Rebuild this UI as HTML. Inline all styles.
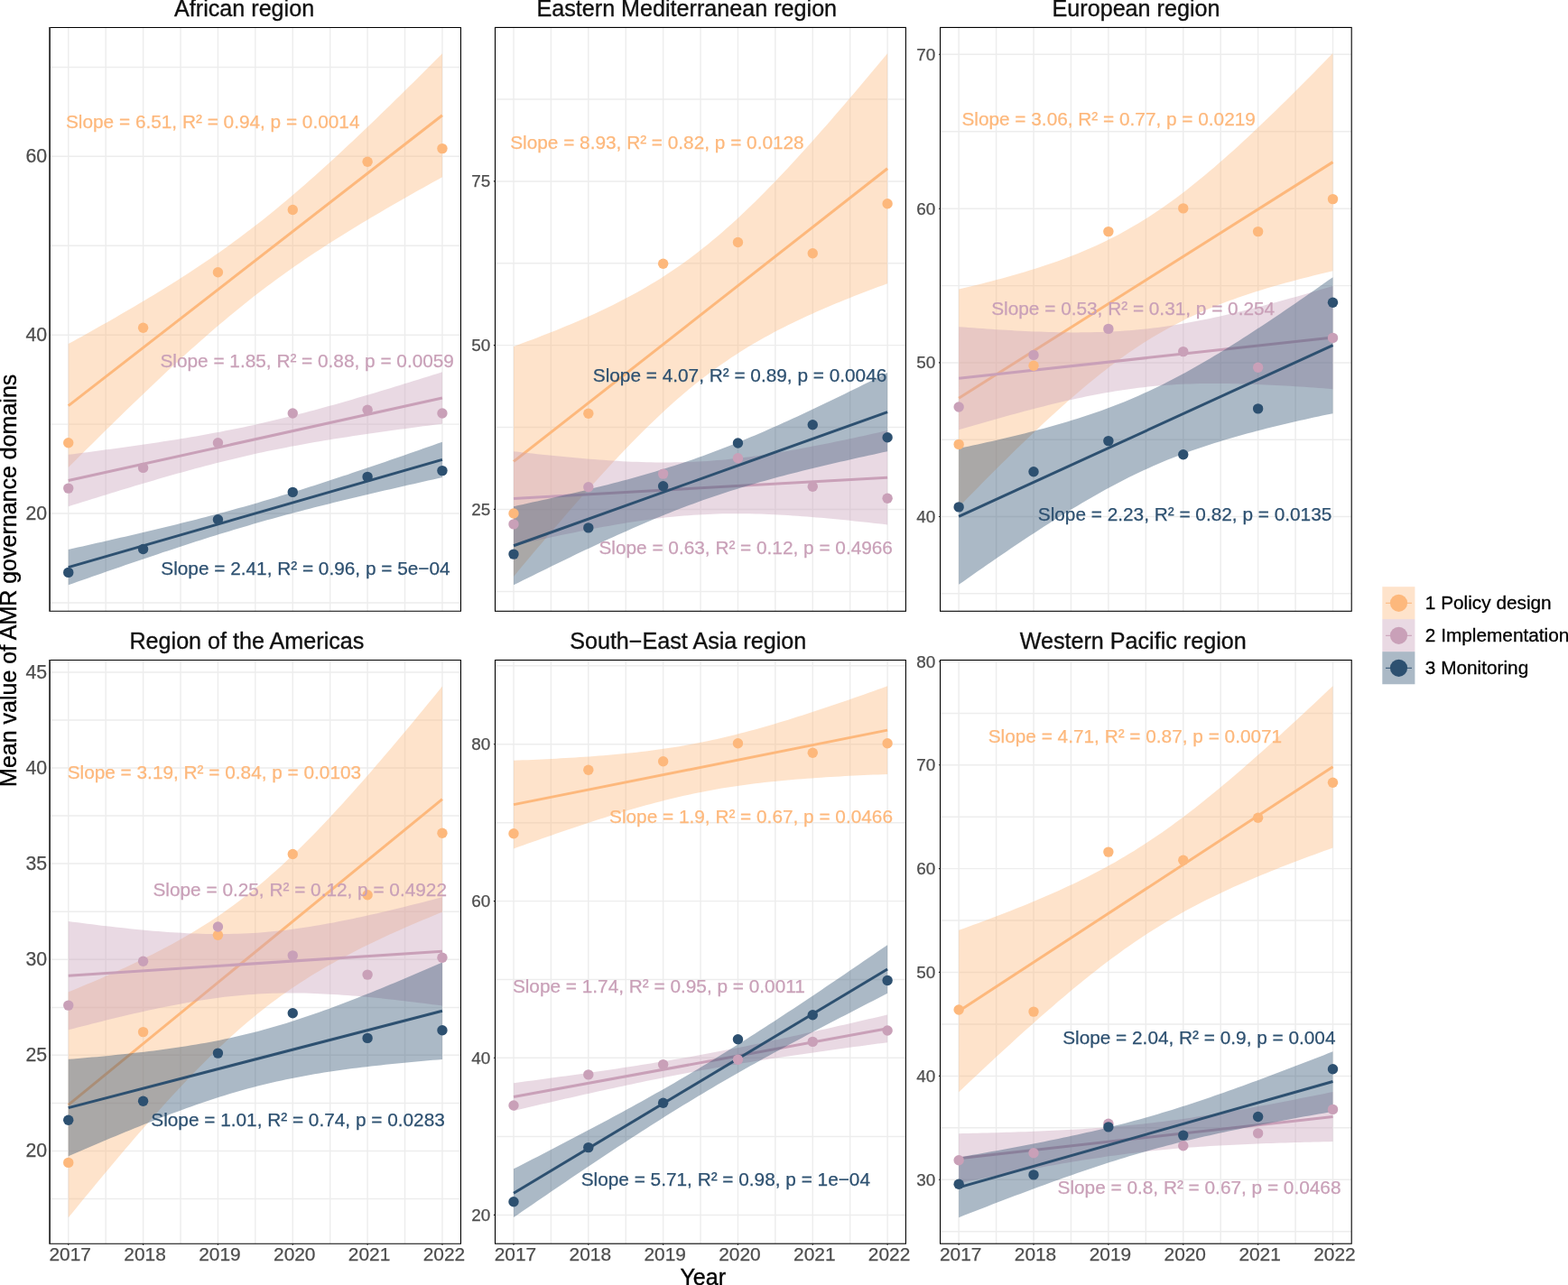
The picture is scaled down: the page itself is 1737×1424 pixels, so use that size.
<!DOCTYPE html>
<html lang="en"><head><meta charset="utf-8"><title>Mean value of AMR governance domains by WHO region</title>
<style>html,body{margin:0;padding:0;background:#fff}body{width:1737px;height:1424px;overflow:hidden}svg{display:block}text{font-family:"Liberation Sans",Arial,Helvetica,sans-serif}</style>
</head><body>
<svg width="1737" height="1424" viewBox="0 0 1737 1424">
<rect width="1737" height="1424" fill="#fff"/>
<g>
<path d="M55.1 74.4H510.45M55.1 173.3H510.45M55.1 272.2H510.45M55.1 371.2H510.45M55.1 470.1H510.45M55.1 569H510.45M55.1 668H510.45M75.75 30.45V677.3M117.17 30.45V677.3M158.59 30.45V677.3M200.01 30.45V677.3M241.43 30.45V677.3M282.85 30.45V677.3M324.27 30.45V677.3M365.69 30.45V677.3M407.11 30.45V677.3M448.53 30.45V677.3M489.95 30.45V677.3" stroke="#EDEDED" stroke-width="1.45" fill="none"/>
<polygon points="75.75,381.11 80.99,378.21 86.24,375.31 91.48,372.39 96.72,369.46 101.97,366.52 107.21,363.57 112.45,360.61 117.69,357.63 122.94,354.63 128.18,351.63 133.42,348.6 138.67,345.56 143.91,342.5 149.15,339.42 154.4,336.32 159.64,333.19 164.88,330.05 170.12,326.88 175.37,323.69 180.61,320.47 185.85,317.22 191.1,313.94 196.34,310.63 201.58,307.28 206.83,303.91 212.07,300.49 217.31,297.04 222.56,293.55 227.8,290.02 233.04,286.44 238.28,282.82 243.53,279.15 248.77,275.44 254.01,271.68 259.26,267.87 264.5,264 269.74,260.09 274.99,256.12 280.23,252.1 285.47,248.03 290.71,243.9 295.96,239.72 301.2,235.49 306.44,231.21 311.69,226.87 316.93,222.49 322.17,218.06 327.42,213.58 332.66,209.05 337.9,204.48 343.14,199.87 348.39,195.21 353.63,190.52 358.87,185.79 364.12,181.02 369.36,176.21 374.6,171.38 379.85,166.51 385.09,161.61 390.33,156.69 395.58,151.74 400.82,146.76 406.06,141.76 411.3,136.73 416.55,131.69 421.79,126.62 427.03,121.53 432.28,116.43 437.52,111.31 442.76,106.17 448.01,101.02 453.25,95.85 458.49,90.67 463.73,85.48 468.98,80.27 474.22,75.05 479.46,69.82 484.71,64.58 489.95,59.33 489.95,196.27 484.71,199.17 479.46,202.07 474.22,204.99 468.98,207.92 463.73,210.86 458.49,213.81 453.25,216.78 448.01,219.76 442.76,222.75 437.52,225.76 432.28,228.78 427.03,231.83 421.79,234.89 416.55,237.97 411.3,241.07 406.06,244.19 400.82,247.33 395.58,250.5 390.33,253.7 385.09,256.92 379.85,260.17 374.6,263.45 369.36,266.76 364.12,270.1 358.87,273.48 353.63,276.89 348.39,280.34 343.14,283.83 337.9,287.37 332.66,290.94 327.42,294.56 322.17,298.23 316.93,301.94 311.69,305.71 306.44,309.52 301.2,313.38 295.96,317.3 290.71,321.26 285.47,325.28 280.23,329.36 274.99,333.48 269.74,337.66 264.5,341.89 259.26,346.18 254.01,350.51 248.77,354.89 243.53,359.33 238.28,363.81 233.04,368.33 227.8,372.9 222.56,377.52 217.31,382.17 212.07,386.87 206.83,391.6 201.58,396.37 196.34,401.17 191.1,406.01 185.85,410.87 180.61,415.77 175.37,420.7 170.12,425.65 164.88,430.63 159.64,435.63 154.4,440.65 149.15,445.7 143.91,450.76 138.67,455.85 133.42,460.95 128.18,466.07 122.94,471.21 117.69,476.36 112.45,481.53 107.21,486.71 101.97,491.91 96.72,497.11 91.48,502.33 86.24,507.56 80.99,512.8 75.75,518.05" fill="#FDB87C" fill-opacity="0.4"/>
<line x1="75.75" y1="449.58" x2="489.95" y2="127.8" stroke="#FDB87C" stroke-width="3.0"/>
<polygon points="75.75,503.81 80.99,503.15 86.24,502.48 91.48,501.81 96.72,501.13 101.97,500.44 107.21,499.75 112.45,499.06 117.69,498.36 122.94,497.65 128.18,496.94 133.42,496.22 138.67,495.49 143.91,494.76 149.15,494.02 154.4,493.27 159.64,492.51 164.88,491.74 170.12,490.96 175.37,490.17 180.61,489.37 185.85,488.55 191.1,487.73 196.34,486.89 201.58,486.03 206.83,485.17 212.07,484.28 217.31,483.39 222.56,482.47 227.8,481.54 233.04,480.59 238.28,479.62 243.53,478.63 248.77,477.62 254.01,476.59 259.26,475.54 264.5,474.47 269.74,473.38 274.99,472.27 280.23,471.13 285.47,469.97 290.71,468.79 295.96,467.59 301.2,466.36 306.44,465.11 311.69,463.85 316.93,462.56 322.17,461.25 327.42,459.92 332.66,458.57 337.9,457.2 343.14,455.82 348.39,454.41 353.63,452.99 358.87,451.56 364.12,450.11 369.36,448.64 374.6,447.16 379.85,445.67 385.09,444.17 390.33,442.65 395.58,441.12 400.82,439.58 406.06,438.04 411.3,436.48 416.55,434.91 421.79,433.34 427.03,431.75 432.28,430.16 437.52,428.56 442.76,426.96 448.01,425.35 453.25,423.73 458.49,422.1 463.73,420.48 468.98,418.84 474.22,417.2 479.46,415.56 484.71,413.91 489.95,412.26 489.95,469.69 484.71,470.35 479.46,471.02 474.22,471.69 468.98,472.37 463.73,473.06 458.49,473.75 453.25,474.44 448.01,475.14 442.76,475.85 437.52,476.56 432.28,477.28 427.03,478.01 421.79,478.74 416.55,479.48 411.3,480.23 406.06,480.99 400.82,481.76 395.58,482.54 390.33,483.33 385.09,484.13 379.85,484.95 374.6,485.77 369.36,486.61 364.12,487.47 358.87,488.33 353.63,489.22 348.39,490.11 343.14,491.03 337.9,491.96 332.66,492.91 327.42,493.88 322.17,494.87 316.93,495.88 311.69,496.91 306.44,497.96 301.2,499.03 295.96,500.12 290.71,501.23 285.47,502.37 280.23,503.53 274.99,504.71 269.74,505.91 264.5,507.14 259.26,508.39 254.01,509.65 248.77,510.94 243.53,512.25 238.28,513.58 233.04,514.93 227.8,516.3 222.56,517.68 217.31,519.09 212.07,520.51 206.83,521.94 201.58,523.39 196.34,524.86 191.1,526.34 185.85,527.83 180.61,529.33 175.37,530.85 170.12,532.38 164.88,533.92 159.64,535.46 154.4,537.02 149.15,538.59 143.91,540.16 138.67,541.75 133.42,543.34 128.18,544.94 122.94,546.54 117.69,548.15 112.45,549.77 107.21,551.4 101.97,553.02 96.72,554.66 91.48,556.3 86.24,557.94 80.99,559.59 75.75,561.24" fill="#C9A0B8" fill-opacity="0.4"/>
<line x1="75.75" y1="532.53" x2="489.95" y2="440.97" stroke="#C9A0B8" stroke-width="3.0"/>
<polygon points="75.75,608.94 80.99,607.77 86.24,606.59 91.48,605.42 96.72,604.24 101.97,603.05 107.21,601.86 112.45,600.67 117.69,599.48 122.94,598.28 128.18,597.08 133.42,595.87 138.67,594.66 143.91,593.44 149.15,592.21 154.4,590.98 159.64,589.75 164.88,588.51 170.12,587.26 175.37,586 180.61,584.74 185.85,583.46 191.1,582.18 196.34,580.89 201.58,579.59 206.83,578.28 212.07,576.96 217.31,575.63 222.56,574.29 227.8,572.94 233.04,571.57 238.28,570.19 243.53,568.8 248.77,567.39 254.01,565.97 259.26,564.54 264.5,563.09 269.74,561.63 274.99,560.15 280.23,558.65 285.47,557.14 290.71,555.62 295.96,554.08 301.2,552.53 306.44,550.96 311.69,549.37 316.93,547.77 322.17,546.16 327.42,544.53 332.66,542.9 337.9,541.24 343.14,539.58 348.39,537.9 353.63,536.21 358.87,534.52 364.12,532.81 369.36,531.09 374.6,529.36 379.85,527.62 385.09,525.88 390.33,524.12 395.58,522.36 400.82,520.59 406.06,518.81 411.3,517.03 416.55,515.24 421.79,513.45 427.03,511.65 432.28,509.84 437.52,508.03 442.76,506.22 448.01,504.4 453.25,502.57 458.49,500.75 463.73,498.92 468.98,497.08 474.22,495.24 479.46,493.4 484.71,491.56 489.95,489.71 489.95,529.06 484.71,530.23 479.46,531.41 474.22,532.58 468.98,533.76 463.73,534.95 458.49,536.14 453.25,537.33 448.01,538.52 442.76,539.72 437.52,540.92 432.28,542.13 427.03,543.34 421.79,544.56 416.55,545.79 411.3,547.02 406.06,548.25 400.82,549.49 395.58,550.74 390.33,552 385.09,553.26 379.85,554.54 374.6,555.82 369.36,557.11 364.12,558.41 358.87,559.72 353.63,561.04 348.39,562.37 343.14,563.71 337.9,565.06 332.66,566.43 327.42,567.81 322.17,569.2 316.93,570.61 311.69,572.03 306.44,573.46 301.2,574.91 295.96,576.37 290.71,577.85 285.47,579.35 280.23,580.86 274.99,582.38 269.74,583.92 264.5,585.47 259.26,587.04 254.01,588.63 248.77,590.23 243.53,591.84 238.28,593.47 233.04,595.1 227.8,596.76 222.56,598.42 217.31,600.1 212.07,601.79 206.83,603.48 201.58,605.19 196.34,606.91 191.1,608.64 185.85,610.38 180.61,612.12 175.37,613.88 170.12,615.64 164.88,617.41 159.64,619.19 154.4,620.97 149.15,622.76 143.91,624.55 138.67,626.35 133.42,628.16 128.18,629.97 122.94,631.78 117.69,633.6 112.45,635.43 107.21,637.25 101.97,639.08 96.72,640.92 91.48,642.76 86.24,644.6 80.99,646.44 75.75,648.29" fill="#2D5070" fill-opacity="0.4"/>
<line x1="75.75" y1="628.61" x2="489.95" y2="509.39" stroke="#2D5070" stroke-width="3.0"/>
<circle cx="75.75" cy="490.8" r="5.7" fill="#FDB87C"/>
<circle cx="158.59" cy="363.25" r="5.7" fill="#FDB87C"/>
<circle cx="241.43" cy="301.8" r="5.7" fill="#FDB87C"/>
<circle cx="324.27" cy="232.5" r="5.7" fill="#FDB87C"/>
<circle cx="407.11" cy="179.2" r="5.7" fill="#FDB87C"/>
<circle cx="489.95" cy="164.6" r="5.7" fill="#FDB87C"/>
<circle cx="75.75" cy="541.1" r="5.7" fill="#C9A0B8"/>
<circle cx="158.59" cy="518.4" r="5.7" fill="#C9A0B8"/>
<circle cx="241.43" cy="490.8" r="5.7" fill="#C9A0B8"/>
<circle cx="324.27" cy="458" r="5.7" fill="#C9A0B8"/>
<circle cx="407.11" cy="454.2" r="5.7" fill="#C9A0B8"/>
<circle cx="489.95" cy="458" r="5.7" fill="#C9A0B8"/>
<circle cx="75.75" cy="634.4" r="5.7" fill="#2D5070"/>
<circle cx="158.59" cy="608.5" r="5.7" fill="#2D5070"/>
<circle cx="241.43" cy="575.7" r="5.7" fill="#2D5070"/>
<circle cx="324.27" cy="545.4" r="5.7" fill="#2D5070"/>
<circle cx="407.11" cy="528.4" r="5.7" fill="#2D5070"/>
<circle cx="489.95" cy="521.6" r="5.7" fill="#2D5070"/>
<text x="235.75" y="141.9" font-size="20.8" text-anchor="middle" fill="#FDB87C" stroke="#FDB87C" stroke-width="0.25">Slope = 6.51, R² = 0.94, p = 0.0014</text>
<text x="340.2" y="407.4" font-size="20.8" text-anchor="middle" fill="#C9A0B8" stroke="#C9A0B8" stroke-width="0.25">Slope = 1.85, R² = 0.88, p = 0.0059</text>
<text x="338.45" y="637.4" font-size="20.8" text-anchor="middle" fill="#2D5070" stroke="#2D5070" stroke-width="0.25">Slope = 2.41, R² = 0.96, p = 5e−04</text>
<path d="M55.1 30.45H510.45V677.3H55.1" fill="none" stroke="#000000" stroke-width="1.1"/>
<line x1="55.1" y1="29.95" x2="55.1" y2="677.8" stroke="#303030" stroke-width="1.85"/>
<text x="52.2" y="180.28" font-size="21.3" text-anchor="end" fill="#4D4D4D" stroke="#4D4D4D" stroke-width="0.25">60</text>
<text x="52.2" y="378.18" font-size="21.3" text-anchor="end" fill="#4D4D4D" stroke="#4D4D4D" stroke-width="0.25">40</text>
<text x="52.2" y="575.98" font-size="21.3" text-anchor="end" fill="#4D4D4D" stroke="#4D4D4D" stroke-width="0.25">20</text>
<text x="270.6" y="18.1" font-size="25.15" text-anchor="middle" fill="#111" stroke="#111" stroke-width="0.35">African region</text>
</g>
<g>
<path d="M548.5 110H1003.4M548.5 200.9H1003.4M548.5 291.8H1003.4M548.5 382.6H1003.4M548.5 473.5H1003.4M548.5 564.4H1003.4M548.5 655.5H1003.4M569 30.45V677.3M610.41 30.45V677.3M651.82 30.45V677.3M693.23 30.45V677.3M734.64 30.45V677.3M776.05 30.45V677.3M817.46 30.45V677.3M858.87 30.45V677.3M900.28 30.45V677.3M941.69 30.45V677.3M983.1 30.45V677.3" stroke="#EDEDED" stroke-width="1.45" fill="none"/>
<polygon points="569,383.93 574.24,382.01 579.48,380.08 584.73,378.12 589.97,376.14 595.21,374.14 600.45,372.12 605.69,370.08 610.93,368 616.18,365.91 621.42,363.78 626.66,361.62 631.9,359.43 637.14,357.2 642.38,354.94 647.63,352.65 652.87,350.31 658.11,347.93 663.35,345.5 668.59,343.03 673.84,340.51 679.08,337.93 684.32,335.3 689.56,332.61 694.8,329.86 700.04,327.04 705.29,324.16 710.53,321.21 715.77,318.18 721.01,315.08 726.25,311.9 731.49,308.63 736.74,305.28 741.98,301.84 747.22,298.31 752.46,294.68 757.7,290.96 762.95,287.15 768.19,283.24 773.43,279.22 778.67,275.11 783.91,270.91 789.15,266.6 794.4,262.2 799.64,257.7 804.88,253.1 810.12,248.41 815.36,243.63 820.61,238.77 825.85,233.81 831.09,228.78 836.33,223.66 841.57,218.47 846.81,213.2 852.06,207.87 857.3,202.46 862.54,196.99 867.78,191.46 873.02,185.88 878.26,180.23 883.51,174.53 888.75,168.79 893.99,162.99 899.23,157.16 904.47,151.28 909.72,145.35 914.96,139.4 920.2,133.4 925.44,127.37 930.68,121.31 935.92,115.22 941.17,109.1 946.41,102.95 951.65,96.78 956.89,90.58 962.13,84.36 967.37,78.12 972.62,71.86 977.86,65.58 983.1,59.27 983.1,314.27 977.86,316.19 972.62,318.12 967.37,320.08 962.13,322.06 956.89,324.06 951.65,326.08 946.41,328.12 941.17,330.2 935.92,332.29 930.68,334.42 925.44,336.58 920.2,338.77 914.96,341 909.72,343.26 904.47,345.55 899.23,347.89 893.99,350.27 888.75,352.7 883.51,355.17 878.26,357.69 873.02,360.27 867.78,362.9 862.54,365.59 857.3,368.34 852.06,371.16 846.81,374.04 841.57,376.99 836.33,380.02 831.09,383.12 825.85,386.3 820.61,389.57 815.36,392.92 810.12,396.36 804.88,399.89 799.64,403.52 794.4,407.24 789.15,411.05 783.91,414.96 778.67,418.98 773.43,423.09 768.19,427.29 762.95,431.6 757.7,436 752.46,440.5 747.22,445.1 741.98,449.79 736.74,454.57 731.49,459.43 726.25,464.39 721.01,469.42 715.77,474.54 710.53,479.73 705.29,485 700.04,490.33 694.8,495.74 689.56,501.21 684.32,506.74 679.08,512.32 673.84,517.97 668.59,523.67 663.35,529.41 658.11,535.21 652.87,541.04 647.63,546.92 642.38,552.85 637.14,558.8 631.9,564.8 626.66,570.83 621.42,576.89 616.18,582.98 610.93,589.1 605.69,595.25 600.45,601.42 595.21,607.62 589.97,613.84 584.73,620.08 579.48,626.34 574.24,632.62 569,638.93" fill="#FDB87C" fill-opacity="0.4"/>
<line x1="569" y1="511.43" x2="983.1" y2="186.77" stroke="#FDB87C" stroke-width="3.0"/>
<polygon points="569,500.19 574.24,500.8 579.48,501.39 584.73,501.98 589.97,502.56 595.21,503.13 600.45,503.7 605.69,504.25 610.93,504.79 616.18,505.32 621.42,505.84 626.66,506.34 631.9,506.83 637.14,507.31 642.38,507.78 647.63,508.22 652.87,508.66 658.11,509.07 663.35,509.47 668.59,509.84 673.84,510.2 679.08,510.53 684.32,510.85 689.56,511.14 694.8,511.4 700.04,511.64 705.29,511.84 710.53,512.02 715.77,512.17 721.01,512.29 726.25,512.38 731.49,512.43 736.74,512.45 741.98,512.43 747.22,512.37 752.46,512.28 757.7,512.14 762.95,511.97 768.19,511.76 773.43,511.5 778.67,511.21 783.91,510.88 789.15,510.5 794.4,510.09 799.64,509.64 804.88,509.14 810.12,508.61 815.36,508.05 820.61,507.44 825.85,506.8 831.09,506.13 836.33,505.42 841.57,504.69 846.81,503.92 852.06,503.12 857.3,502.3 862.54,501.45 867.78,500.57 873.02,499.68 878.26,498.75 883.51,497.81 888.75,496.85 893.99,495.86 899.23,494.86 904.47,493.84 909.72,492.81 914.96,491.76 920.2,490.69 925.44,489.61 930.68,488.52 935.92,487.41 941.17,486.3 946.41,485.17 951.65,484.03 956.89,482.88 962.13,481.72 967.37,480.56 972.62,479.38 977.86,478.2 983.1,477.01 983.1,581.44 977.86,580.84 972.62,580.24 967.37,579.65 962.13,579.07 956.89,578.5 951.65,577.94 946.41,577.39 941.17,576.85 935.92,576.32 930.68,575.8 925.44,575.29 920.2,574.8 914.96,574.32 909.72,573.86 904.47,573.41 899.23,572.98 893.99,572.56 888.75,572.17 883.51,571.79 878.26,571.43 873.02,571.1 867.78,570.79 862.54,570.5 857.3,570.23 852.06,570 846.81,569.79 841.57,569.61 836.33,569.46 831.09,569.34 825.85,569.25 820.61,569.2 815.36,569.19 810.12,569.21 804.88,569.26 799.64,569.36 794.4,569.49 789.15,569.66 783.91,569.88 778.67,570.13 773.43,570.42 768.19,570.76 762.95,571.13 757.7,571.54 752.46,572 747.22,572.49 741.98,573.02 736.74,573.59 731.49,574.19 726.25,574.83 721.01,575.5 715.77,576.21 710.53,576.95 705.29,577.71 700.04,578.51 694.8,579.33 689.56,580.18 684.32,581.06 679.08,581.96 673.84,582.88 668.59,583.82 663.35,584.79 658.11,585.77 652.87,586.77 647.63,587.79 642.38,588.83 637.14,589.88 631.9,590.94 626.66,592.02 621.42,593.11 616.18,594.22 610.93,595.34 605.69,596.46 600.45,597.6 595.21,598.75 589.97,599.91 584.73,601.08 579.48,602.25 574.24,603.43 569,604.63" fill="#C9A0B8" fill-opacity="0.4"/>
<line x1="569" y1="552.41" x2="983.1" y2="529.22" stroke="#C9A0B8" stroke-width="3.0"/>
<polygon points="569,561.15 574.24,560.03 579.48,558.89 584.73,557.76 589.97,556.61 595.21,555.46 600.45,554.3 605.69,553.13 610.93,551.95 616.18,550.76 621.42,549.57 626.66,548.36 631.9,547.14 637.14,545.91 642.38,544.67 647.63,543.41 652.87,542.14 658.11,540.86 663.35,539.56 668.59,538.24 673.84,536.91 679.08,535.56 684.32,534.19 689.56,532.8 694.8,531.39 700.04,529.96 705.29,528.51 710.53,527.03 715.77,525.52 721.01,523.99 726.25,522.43 731.49,520.85 736.74,519.23 741.98,517.59 747.22,515.91 752.46,514.2 757.7,512.46 762.95,510.68 768.19,508.88 773.43,507.04 778.67,505.16 783.91,503.25 789.15,501.31 794.4,499.34 799.64,497.33 804.88,495.29 810.12,493.21 815.36,491.11 820.61,488.98 825.85,486.81 831.09,484.62 836.33,482.4 841.57,480.16 846.81,477.89 852.06,475.59 857.3,473.27 862.54,470.93 867.78,468.57 873.02,466.19 878.26,463.79 883.51,461.38 888.75,458.94 893.99,456.49 899.23,454.02 904.47,451.54 909.72,449.05 914.96,446.54 920.2,444.02 925.44,441.49 930.68,438.95 935.92,436.4 941.17,433.83 946.41,431.26 951.65,428.68 956.89,426.09 962.13,423.5 967.37,420.89 972.62,418.28 977.86,415.66 983.1,413.04 983.1,500.25 977.86,501.37 972.62,502.51 967.37,503.64 962.13,504.79 956.89,505.94 951.65,507.1 946.41,508.27 941.17,509.45 935.92,510.64 930.68,511.83 925.44,513.04 920.2,514.26 914.96,515.49 909.72,516.73 904.47,517.99 899.23,519.26 893.99,520.54 888.75,521.84 883.51,523.16 878.26,524.49 873.02,525.84 867.78,527.21 862.54,528.6 857.3,530.01 852.06,531.44 846.81,532.89 841.57,534.37 836.33,535.88 831.09,537.41 825.85,538.97 820.61,540.55 815.36,542.17 810.12,543.81 804.88,545.49 799.64,547.2 794.4,548.94 789.15,550.72 783.91,552.52 778.67,554.36 773.43,556.24 768.19,558.15 762.95,560.09 757.7,562.06 752.46,564.07 747.22,566.11 741.98,568.19 736.74,570.29 731.49,572.42 726.25,574.59 721.01,576.78 715.77,579 710.53,581.24 705.29,583.51 700.04,585.81 694.8,588.13 689.56,590.47 684.32,592.83 679.08,595.21 673.84,597.61 668.59,600.02 663.35,602.46 658.11,604.91 652.87,607.38 647.63,609.86 642.38,612.35 637.14,614.86 631.9,617.38 626.66,619.91 621.42,622.45 616.18,625 610.93,627.57 605.69,630.14 600.45,632.72 595.21,635.31 589.97,637.9 584.73,640.51 579.48,643.12 574.24,645.74 569,648.36" fill="#2D5070" fill-opacity="0.4"/>
<line x1="569" y1="604.76" x2="983.1" y2="456.64" stroke="#2D5070" stroke-width="3.0"/>
<circle cx="569" cy="569" r="5.7" fill="#FDB87C"/>
<circle cx="651.82" cy="458.3" r="5.7" fill="#FDB87C"/>
<circle cx="734.64" cy="292.3" r="5.7" fill="#FDB87C"/>
<circle cx="817.46" cy="268.5" r="5.7" fill="#FDB87C"/>
<circle cx="900.28" cy="280.7" r="5.7" fill="#FDB87C"/>
<circle cx="983.1" cy="225.8" r="5.7" fill="#FDB87C"/>
<circle cx="569" cy="580.9" r="5.7" fill="#C9A0B8"/>
<circle cx="651.82" cy="539.7" r="5.7" fill="#C9A0B8"/>
<circle cx="734.64" cy="525.1" r="5.7" fill="#C9A0B8"/>
<circle cx="817.46" cy="507.8" r="5.7" fill="#C9A0B8"/>
<circle cx="900.28" cy="539.2" r="5.7" fill="#C9A0B8"/>
<circle cx="983.1" cy="552.2" r="5.7" fill="#C9A0B8"/>
<circle cx="569" cy="614.1" r="5.7" fill="#2D5070"/>
<circle cx="651.82" cy="584.9" r="5.7" fill="#2D5070"/>
<circle cx="734.64" cy="538.7" r="5.7" fill="#2D5070"/>
<circle cx="817.46" cy="491" r="5.7" fill="#2D5070"/>
<circle cx="900.28" cy="470.7" r="5.7" fill="#2D5070"/>
<circle cx="983.1" cy="484.8" r="5.7" fill="#2D5070"/>
<text x="727.95" y="165.2" font-size="20.8" text-anchor="middle" fill="#FDB87C" stroke="#FDB87C" stroke-width="0.25">Slope = 8.93, R² = 0.82, p = 0.0128</text>
<text x="819.55" y="423.1" font-size="20.8" text-anchor="middle" fill="#2D5070" stroke="#2D5070" stroke-width="0.25">Slope = 4.07, R² = 0.89, p = 0.0046</text>
<text x="826.2" y="613.9" font-size="20.8" text-anchor="middle" fill="#C9A0B8" stroke="#C9A0B8" stroke-width="0.25">Slope = 0.63, R² = 0.12, p = 0.4966</text>
<path d="M548.5 200.9h-1.7M548.5 382.6h-1.7M548.5 564.4h-1.7" stroke="#333" stroke-width="1.1" fill="none"/>
<rect x="548.5" y="30.45" width="454.9" height="646.85" fill="none" stroke="#000000" stroke-width="1.1"/>
<text x="543.15" y="207.42" font-size="18.9" text-anchor="end" fill="#4D4D4D" stroke="#4D4D4D" stroke-width="0.25">75</text>
<text x="543.15" y="389.12" font-size="18.9" text-anchor="end" fill="#4D4D4D" stroke="#4D4D4D" stroke-width="0.25">50</text>
<text x="543.15" y="570.92" font-size="18.9" text-anchor="end" fill="#4D4D4D" stroke="#4D4D4D" stroke-width="0.25">25</text>
<text x="760.8" y="18.1" font-size="25.15" text-anchor="middle" fill="#111" stroke="#111" stroke-width="0.35">Eastern Mediterranean region</text>
</g>
<g>
<path d="M1041.55 60.2H1497.2M1041.55 145.7H1497.2M1041.55 231.2H1497.2M1041.55 316.6H1497.2M1041.55 401.9H1497.2M1041.55 487.2H1497.2M1041.55 572.5H1497.2M1041.55 657.8H1497.2M1062.15 30.45V677.3M1103.59 30.45V677.3M1145.02 30.45V677.3M1186.46 30.45V677.3M1227.89 30.45V677.3M1269.33 30.45V677.3M1310.76 30.45V677.3M1352.19 30.45V677.3M1393.63 30.45V677.3M1435.07 30.45V677.3M1476.5 30.45V677.3" stroke="#EDEDED" stroke-width="1.45" fill="none"/>
<polygon points="1062.15,320.52 1067.39,319.28 1072.64,318.03 1077.88,316.76 1083.13,315.47 1088.37,314.15 1093.62,312.82 1098.86,311.46 1104.11,310.08 1109.35,308.67 1114.6,307.23 1119.84,305.77 1125.09,304.27 1130.33,302.75 1135.58,301.19 1140.82,299.59 1146.07,297.95 1151.31,296.28 1156.56,294.56 1161.8,292.8 1167.05,290.99 1172.29,289.13 1177.54,287.22 1182.78,285.26 1188.03,283.23 1193.27,281.15 1198.52,279 1203.76,276.78 1209.01,274.49 1214.25,272.14 1219.5,269.7 1224.74,267.19 1229.99,264.59 1235.23,261.92 1240.48,259.15 1245.72,256.3 1250.97,253.36 1256.21,250.33 1261.46,247.21 1266.7,243.99 1271.95,240.68 1277.19,237.27 1282.44,233.78 1287.68,230.19 1292.93,226.51 1298.17,222.74 1303.42,218.88 1308.66,214.93 1313.91,210.91 1319.15,206.8 1324.4,202.61 1329.64,198.35 1334.89,194.01 1340.13,189.61 1345.38,185.14 1350.62,180.6 1355.87,176 1361.11,171.35 1366.36,166.64 1371.6,161.88 1376.85,157.06 1382.09,152.2 1387.34,147.3 1392.58,142.35 1397.83,137.37 1403.07,132.34 1408.32,127.28 1413.56,122.19 1418.81,117.06 1424.05,111.9 1429.3,106.72 1434.54,101.5 1439.79,96.26 1445.03,91 1450.28,85.72 1455.52,80.41 1460.77,75.08 1466.01,69.73 1471.26,64.36 1476.5,58.98 1476.5,300.28 1471.26,301.52 1466.01,302.77 1460.77,304.04 1455.52,305.33 1450.28,306.65 1445.03,307.98 1439.79,309.34 1434.54,310.72 1429.3,312.13 1424.05,313.57 1418.81,315.03 1413.56,316.53 1408.32,318.05 1403.07,319.61 1397.83,321.21 1392.58,322.85 1387.34,324.52 1382.09,326.24 1376.85,328 1371.6,329.81 1366.36,331.67 1361.11,333.58 1355.87,335.54 1350.62,337.57 1345.38,339.65 1340.13,341.8 1334.89,344.02 1329.64,346.31 1324.4,348.66 1319.15,351.1 1313.91,353.61 1308.66,356.21 1303.42,358.88 1298.17,361.65 1292.93,364.5 1287.68,367.44 1282.44,370.47 1277.19,373.59 1271.95,376.81 1266.7,380.12 1261.46,383.53 1256.21,387.02 1250.97,390.61 1245.72,394.29 1240.48,398.06 1235.23,401.92 1229.99,405.87 1224.74,409.89 1219.5,414 1214.25,418.19 1209.01,422.45 1203.76,426.79 1198.52,431.19 1193.27,435.66 1188.03,440.2 1182.78,444.8 1177.54,449.45 1172.29,454.16 1167.05,458.92 1161.8,463.74 1156.56,468.6 1151.31,473.5 1146.07,478.45 1140.82,483.43 1135.58,488.46 1130.33,493.52 1125.09,498.61 1119.84,503.74 1114.6,508.9 1109.35,514.08 1104.11,519.3 1098.86,524.54 1093.62,529.8 1088.37,535.08 1083.13,540.39 1077.88,545.72 1072.64,551.07 1067.39,556.44 1062.15,561.82" fill="#FDB87C" fill-opacity="0.4"/>
<line x1="1062.15" y1="441.17" x2="1476.5" y2="179.63" stroke="#FDB87C" stroke-width="3.0"/>
<polygon points="1062.15,362.16 1067.39,362.57 1072.64,362.97 1077.88,363.36 1083.13,363.75 1088.37,364.12 1093.62,364.48 1098.86,364.84 1104.11,365.18 1109.35,365.5 1114.6,365.82 1119.84,366.12 1125.09,366.41 1130.33,366.68 1135.58,366.94 1140.82,367.18 1146.07,367.4 1151.31,367.6 1156.56,367.78 1161.8,367.94 1167.05,368.08 1172.29,368.2 1177.54,368.29 1182.78,368.35 1188.03,368.39 1193.27,368.39 1198.52,368.37 1203.76,368.32 1209.01,368.23 1214.25,368.11 1219.5,367.95 1224.74,367.76 1229.99,367.52 1235.23,367.25 1240.48,366.94 1245.72,366.58 1250.97,366.19 1256.21,365.75 1261.46,365.26 1266.7,364.74 1271.95,364.16 1277.19,363.55 1282.44,362.89 1287.68,362.18 1292.93,361.44 1298.17,360.65 1303.42,359.81 1308.66,358.94 1313.91,358.03 1319.15,357.08 1324.4,356.09 1329.64,355.07 1334.89,354.01 1340.13,352.92 1345.38,351.8 1350.62,350.65 1355.87,349.47 1361.11,348.26 1366.36,347.03 1371.6,345.77 1376.85,344.48 1382.09,343.18 1387.34,341.85 1392.58,340.51 1397.83,339.14 1403.07,337.76 1408.32,336.36 1413.56,334.94 1418.81,333.51 1424.05,332.06 1429.3,330.6 1434.54,329.13 1439.79,327.65 1445.03,326.15 1450.28,324.64 1455.52,323.12 1460.77,321.6 1466.01,320.06 1471.26,318.51 1476.5,316.96 1476.5,431.17 1471.26,430.76 1466.01,430.36 1460.77,429.97 1455.52,429.59 1450.28,429.21 1445.03,428.85 1439.79,428.5 1434.54,428.16 1429.3,427.83 1424.05,427.51 1418.81,427.21 1413.56,426.93 1408.32,426.65 1403.07,426.4 1397.83,426.16 1392.58,425.94 1387.34,425.73 1382.09,425.55 1376.85,425.39 1371.6,425.25 1366.36,425.14 1361.11,425.05 1355.87,424.98 1350.62,424.95 1345.38,424.94 1340.13,424.96 1334.89,425.02 1329.64,425.1 1324.4,425.22 1319.15,425.38 1313.91,425.58 1308.66,425.81 1303.42,426.08 1298.17,426.39 1292.93,426.75 1287.68,427.15 1282.44,427.59 1277.19,428.07 1271.95,428.6 1266.7,429.17 1261.46,429.79 1256.21,430.45 1250.97,431.15 1245.72,431.9 1240.48,432.69 1235.23,433.52 1229.99,434.39 1224.74,435.3 1219.5,436.25 1214.25,437.24 1209.01,438.26 1203.76,439.32 1198.52,440.41 1193.27,441.53 1188.03,442.68 1182.78,443.86 1177.54,445.07 1172.29,446.31 1167.05,447.57 1161.8,448.85 1156.56,450.15 1151.31,451.48 1146.07,452.83 1140.82,454.19 1135.58,455.58 1130.33,456.98 1125.09,458.39 1119.84,459.83 1114.6,461.27 1109.35,462.73 1104.11,464.2 1098.86,465.69 1093.62,467.18 1088.37,468.69 1083.13,470.21 1077.88,471.74 1072.64,473.27 1067.39,474.82 1062.15,476.37" fill="#C9A0B8" fill-opacity="0.4"/>
<line x1="1062.15" y1="419.27" x2="1476.5" y2="374.07" stroke="#C9A0B8" stroke-width="3.0"/>
<polygon points="1062.15,496.86 1067.39,495.76 1072.64,494.64 1077.88,493.52 1083.13,492.38 1088.37,491.23 1093.62,490.06 1098.86,488.88 1104.11,487.69 1109.35,486.48 1114.6,485.25 1119.84,484 1125.09,482.74 1130.33,481.45 1135.58,480.15 1140.82,478.82 1146.07,477.46 1151.31,476.09 1156.56,474.68 1161.8,473.25 1167.05,471.79 1172.29,470.3 1177.54,468.77 1182.78,467.21 1188.03,465.61 1193.27,463.98 1198.52,462.31 1203.76,460.59 1209.01,458.83 1214.25,457.02 1219.5,455.17 1224.74,453.27 1229.99,451.32 1235.23,449.31 1240.48,447.25 1245.72,445.14 1250.97,442.97 1256.21,440.74 1261.46,438.46 1266.7,436.12 1271.95,433.71 1277.19,431.26 1282.44,428.74 1287.68,426.16 1292.93,423.53 1298.17,420.84 1303.42,418.1 1308.66,415.3 1313.91,412.45 1319.15,409.55 1324.4,406.6 1329.64,403.6 1334.89,400.56 1340.13,397.48 1345.38,394.35 1350.62,391.18 1355.87,387.98 1361.11,384.73 1366.36,381.46 1371.6,378.15 1376.85,374.81 1382.09,371.44 1387.34,368.04 1392.58,364.61 1397.83,361.16 1403.07,357.69 1408.32,354.2 1413.56,350.68 1418.81,347.14 1424.05,343.58 1429.3,340.01 1434.54,336.42 1439.79,332.81 1445.03,329.19 1450.28,325.55 1455.52,321.9 1460.77,318.24 1466.01,314.56 1471.26,310.87 1476.5,307.18 1476.5,458.14 1471.26,459.24 1466.01,460.36 1460.77,461.48 1455.52,462.62 1450.28,463.77 1445.03,464.94 1439.79,466.12 1434.54,467.31 1429.3,468.52 1424.05,469.75 1418.81,471 1413.56,472.26 1408.32,473.55 1403.07,474.85 1397.83,476.18 1392.58,477.54 1387.34,478.91 1382.09,480.32 1376.85,481.75 1371.6,483.21 1366.36,484.7 1361.11,486.23 1355.87,487.79 1350.62,489.39 1345.38,491.02 1340.13,492.69 1334.89,494.41 1329.64,496.17 1324.4,497.98 1319.15,499.83 1313.91,501.73 1308.66,503.68 1303.42,505.69 1298.17,507.75 1292.93,509.86 1287.68,512.03 1282.44,514.26 1277.19,516.54 1271.95,518.88 1266.7,521.29 1261.46,523.74 1256.21,526.26 1250.97,528.84 1245.72,531.47 1240.48,534.16 1235.23,536.9 1229.99,539.7 1224.74,542.55 1219.5,545.45 1214.25,548.4 1209.01,551.4 1203.76,554.44 1198.52,557.52 1193.27,560.65 1188.03,563.82 1182.78,567.02 1177.54,570.27 1172.29,573.54 1167.05,576.85 1161.8,580.19 1156.56,583.56 1151.31,586.96 1146.07,590.39 1140.82,593.84 1135.58,597.31 1130.33,600.8 1125.09,604.32 1119.84,607.86 1114.6,611.42 1109.35,614.99 1104.11,618.58 1098.86,622.19 1093.62,625.81 1088.37,629.45 1083.13,633.1 1077.88,636.76 1072.64,640.44 1067.39,644.13 1062.15,647.82" fill="#2D5070" fill-opacity="0.4"/>
<line x1="1062.15" y1="572.34" x2="1476.5" y2="382.66" stroke="#2D5070" stroke-width="3.0"/>
<circle cx="1062.15" cy="492.4" r="5.7" fill="#FDB87C"/>
<circle cx="1145.02" cy="405.3" r="5.7" fill="#FDB87C"/>
<circle cx="1227.89" cy="256.6" r="5.7" fill="#FDB87C"/>
<circle cx="1310.76" cy="230.9" r="5.7" fill="#FDB87C"/>
<circle cx="1393.63" cy="256.6" r="5.7" fill="#FDB87C"/>
<circle cx="1476.5" cy="220.6" r="5.7" fill="#FDB87C"/>
<circle cx="1062.15" cy="451" r="5.7" fill="#C9A0B8"/>
<circle cx="1145.02" cy="393.4" r="5.7" fill="#C9A0B8"/>
<circle cx="1227.89" cy="364.4" r="5.7" fill="#C9A0B8"/>
<circle cx="1310.76" cy="389.6" r="5.7" fill="#C9A0B8"/>
<circle cx="1393.63" cy="407.2" r="5.7" fill="#C9A0B8"/>
<circle cx="1476.5" cy="374.4" r="5.7" fill="#C9A0B8"/>
<circle cx="1062.15" cy="561.9" r="5.7" fill="#2D5070"/>
<circle cx="1145.02" cy="522.7" r="5.7" fill="#2D5070"/>
<circle cx="1227.89" cy="488.6" r="5.7" fill="#2D5070"/>
<circle cx="1310.76" cy="503.7" r="5.7" fill="#2D5070"/>
<circle cx="1393.63" cy="452.9" r="5.7" fill="#2D5070"/>
<circle cx="1476.5" cy="335.2" r="5.7" fill="#2D5070"/>
<text x="1228.15" y="138.6" font-size="20.8" text-anchor="middle" fill="#FDB87C" stroke="#FDB87C" stroke-width="0.25">Slope = 3.06, R² = 0.77, p = 0.0219</text>
<text x="1255.2" y="348.65" font-size="20.8" text-anchor="middle" fill="#C9A0B8" stroke="#C9A0B8" stroke-width="0.25">Slope = 0.53, R² = 0.31, p = 0.254</text>
<text x="1312.55" y="577.4" font-size="20.8" text-anchor="middle" fill="#2D5070" stroke="#2D5070" stroke-width="0.25">Slope = 2.23, R² = 0.82, p = 0.0135</text>
<path d="M1041.55 60.2h-1.7M1041.55 231.2h-1.7M1041.55 401.9h-1.7M1041.55 572.5h-1.7" stroke="#333" stroke-width="1.1" fill="none"/>
<rect x="1041.55" y="30.45" width="455.65" height="646.85" fill="none" stroke="#000000" stroke-width="1.1"/>
<text x="1036.2" y="66.72" font-size="18.9" text-anchor="end" fill="#4D4D4D" stroke="#4D4D4D" stroke-width="0.25">70</text>
<text x="1036.2" y="237.72" font-size="18.9" text-anchor="end" fill="#4D4D4D" stroke="#4D4D4D" stroke-width="0.25">60</text>
<text x="1036.2" y="408.42" font-size="18.9" text-anchor="end" fill="#4D4D4D" stroke="#4D4D4D" stroke-width="0.25">50</text>
<text x="1036.2" y="579.02" font-size="18.9" text-anchor="end" fill="#4D4D4D" stroke="#4D4D4D" stroke-width="0.25">40</text>
<text x="1258.5" y="18.1" font-size="25.15" text-anchor="middle" fill="#111" stroke="#111" stroke-width="0.35">European region</text>
</g>
<g>
<path d="M55.1 744.9H510.45M55.1 797.9H510.45M55.1 850.9H510.45M55.1 903.9H510.45M55.1 956.9H510.45M55.1 1010.2H510.45M55.1 1063.3H510.45M55.1 1116.4H510.45M55.1 1169.3H510.45M55.1 1222.4H510.45M55.1 1275.4H510.45M55.1 1328.4H510.45M75.75 731.5V1378.2M117.17 731.5V1378.2M158.59 731.5V1378.2M200.01 731.5V1378.2M241.43 731.5V1378.2M282.85 731.5V1378.2M324.27 731.5V1378.2M365.69 731.5V1378.2M407.11 731.5V1378.2M448.53 731.5V1378.2M489.95 731.5V1378.2" stroke="#EDEDED" stroke-width="1.45" fill="none"/>
<polygon points="75.75,1099.28 80.99,1097.14 86.24,1094.98 91.48,1092.81 96.72,1090.61 101.97,1088.39 107.21,1086.15 112.45,1083.89 117.69,1081.6 122.94,1079.29 128.18,1076.94 133.42,1074.57 138.67,1072.16 143.91,1069.72 149.15,1067.25 154.4,1064.74 159.64,1062.19 164.88,1059.6 170.12,1056.96 175.37,1054.28 180.61,1051.55 185.85,1048.76 191.1,1045.93 196.34,1043.03 201.58,1040.08 206.83,1037.06 212.07,1033.98 217.31,1030.82 222.56,1027.6 227.8,1024.3 233.04,1020.92 238.28,1017.46 243.53,1013.91 248.77,1010.28 254.01,1006.56 259.26,1002.75 264.5,998.85 269.74,994.85 274.99,990.75 280.23,986.56 285.47,982.27 290.71,977.89 295.96,973.41 301.2,968.83 306.44,964.16 311.69,959.4 316.93,954.54 322.17,949.6 327.42,944.57 332.66,939.46 337.9,934.26 343.14,928.99 348.39,923.64 353.63,918.21 358.87,912.72 364.12,907.17 369.36,901.54 374.6,895.86 379.85,890.13 385.09,884.33 390.33,878.49 395.58,872.6 400.82,866.66 406.06,860.67 411.3,854.65 416.55,848.59 421.79,842.48 427.03,836.35 432.28,830.18 437.52,823.98 442.76,817.75 448.01,811.49 453.25,805.2 458.49,798.89 463.73,792.56 468.98,786.2 474.22,779.82 479.46,773.42 484.71,767 489.95,760.56 489.95,1010.66 484.71,1012.79 479.46,1014.95 474.22,1017.13 468.98,1019.32 463.73,1021.54 458.49,1023.78 453.25,1026.04 448.01,1028.33 442.76,1030.65 437.52,1032.99 432.28,1035.37 427.03,1037.77 421.79,1040.21 416.55,1042.68 411.3,1045.2 406.06,1047.75 400.82,1050.34 395.58,1052.97 390.33,1055.66 385.09,1058.39 379.85,1061.17 374.6,1064.01 369.36,1066.9 364.12,1069.85 358.87,1072.87 353.63,1075.96 348.39,1079.11 343.14,1082.33 337.9,1085.64 332.66,1089.01 327.42,1092.48 322.17,1096.02 316.93,1099.65 311.69,1103.37 306.44,1107.18 301.2,1111.09 295.96,1115.09 290.71,1119.18 285.47,1123.37 280.23,1127.66 274.99,1132.04 269.74,1136.52 264.5,1141.1 259.26,1145.77 254.01,1150.53 248.77,1155.39 243.53,1160.33 238.28,1165.36 233.04,1170.48 227.8,1175.67 222.56,1180.95 217.31,1186.3 212.07,1191.72 206.83,1197.21 201.58,1202.77 196.34,1208.39 191.1,1214.07 185.85,1219.81 180.61,1225.6 175.37,1231.44 170.12,1237.34 164.88,1243.28 159.64,1249.26 154.4,1255.28 149.15,1261.35 143.91,1267.45 138.67,1273.59 133.42,1279.76 128.18,1285.96 122.94,1292.19 117.69,1298.45 112.45,1304.73 107.21,1311.04 101.97,1317.38 96.72,1323.74 91.48,1330.12 86.24,1336.51 80.99,1342.93 75.75,1349.37" fill="#FDB87C" fill-opacity="0.4"/>
<line x1="75.75" y1="1224.32" x2="489.95" y2="885.61" stroke="#FDB87C" stroke-width="3.0"/>
<polygon points="75.75,1020.98 80.99,1021.67 86.24,1022.36 91.48,1023.03 96.72,1023.7 101.97,1024.36 107.21,1025.01 112.45,1025.64 117.69,1026.26 122.94,1026.87 128.18,1027.47 133.42,1028.05 138.67,1028.62 143.91,1029.17 149.15,1029.7 154.4,1030.22 159.64,1030.71 164.88,1031.19 170.12,1031.65 175.37,1032.08 180.61,1032.49 185.85,1032.88 191.1,1033.24 196.34,1033.57 201.58,1033.87 206.83,1034.14 212.07,1034.38 217.31,1034.59 222.56,1034.76 227.8,1034.9 233.04,1034.99 238.28,1035.05 243.53,1035.07 248.77,1035.05 254.01,1034.98 259.26,1034.87 264.5,1034.72 269.74,1034.52 274.99,1034.27 280.23,1033.98 285.47,1033.64 290.71,1033.26 295.96,1032.82 301.2,1032.35 306.44,1031.82 311.69,1031.25 316.93,1030.64 322.17,1029.99 327.42,1029.29 332.66,1028.55 337.9,1027.78 343.14,1026.96 348.39,1026.11 353.63,1025.23 358.87,1024.31 364.12,1023.36 369.36,1022.38 374.6,1021.37 379.85,1020.33 385.09,1019.27 390.33,1018.18 395.58,1017.07 400.82,1015.94 406.06,1014.78 411.3,1013.61 416.55,1012.41 421.79,1011.2 427.03,1009.97 432.28,1008.73 437.52,1007.47 442.76,1006.2 448.01,1004.91 453.25,1003.61 458.49,1002.29 463.73,1000.97 468.98,999.64 474.22,998.29 479.46,996.93 484.71,995.57 489.95,994.2 489.95,1114.54 484.71,1113.85 479.46,1113.16 474.22,1112.48 468.98,1111.81 463.73,1111.16 458.49,1110.51 453.25,1109.88 448.01,1109.25 442.76,1108.64 437.52,1108.05 432.28,1107.47 427.03,1106.9 421.79,1106.35 416.55,1105.81 411.3,1105.3 406.06,1104.8 400.82,1104.32 395.58,1103.87 390.33,1103.44 385.09,1103.03 379.85,1102.64 374.6,1102.28 369.36,1101.95 364.12,1101.65 358.87,1101.38 353.63,1101.13 348.39,1100.93 343.14,1100.76 337.9,1100.62 332.66,1100.52 327.42,1100.46 322.17,1100.44 316.93,1100.47 311.69,1100.53 306.44,1100.64 301.2,1100.8 295.96,1101 290.71,1101.24 285.47,1101.54 280.23,1101.88 274.99,1102.26 269.74,1102.69 264.5,1103.17 259.26,1103.69 254.01,1104.26 248.77,1104.87 243.53,1105.53 238.28,1106.23 233.04,1106.96 227.8,1107.74 222.56,1108.55 217.31,1109.4 212.07,1110.29 206.83,1111.21 201.58,1112.16 196.34,1113.14 191.1,1114.15 185.85,1115.18 180.61,1116.25 175.37,1117.33 170.12,1118.44 164.88,1119.58 159.64,1120.73 154.4,1121.91 149.15,1123.1 143.91,1124.31 138.67,1125.54 133.42,1126.79 128.18,1128.05 122.94,1129.32 117.69,1130.61 112.45,1131.91 107.21,1133.22 101.97,1134.55 96.72,1135.88 91.48,1137.23 86.24,1138.58 80.99,1139.95 75.75,1141.32" fill="#C9A0B8" fill-opacity="0.4"/>
<line x1="75.75" y1="1081.15" x2="489.95" y2="1054.37" stroke="#C9A0B8" stroke-width="3.0"/>
<polygon points="75.75,1173.87 80.99,1173.43 86.24,1172.99 91.48,1172.54 96.72,1172.08 101.97,1171.61 107.21,1171.13 112.45,1170.64 117.69,1170.14 122.94,1169.63 128.18,1169.1 133.42,1168.57 138.67,1168.02 143.91,1167.45 149.15,1166.87 154.4,1166.28 159.64,1165.66 164.88,1165.03 170.12,1164.38 175.37,1163.71 180.61,1163.02 185.85,1162.31 191.1,1161.57 196.34,1160.81 201.58,1160.03 206.83,1159.21 212.07,1158.37 217.31,1157.5 222.56,1156.6 227.8,1155.66 233.04,1154.69 238.28,1153.69 243.53,1152.65 248.77,1151.57 254.01,1150.46 259.26,1149.3 264.5,1148.11 269.74,1146.87 274.99,1145.6 280.23,1144.28 285.47,1142.92 290.71,1141.52 295.96,1140.08 301.2,1138.59 306.44,1137.07 311.69,1135.5 316.93,1133.9 322.17,1132.26 327.42,1130.58 332.66,1128.87 337.9,1127.12 343.14,1125.33 348.39,1123.52 353.63,1121.67 358.87,1119.79 364.12,1117.89 369.36,1115.96 374.6,1114 379.85,1112.02 385.09,1110.01 390.33,1107.98 395.58,1105.93 400.82,1103.86 406.06,1101.78 411.3,1099.67 416.55,1097.55 421.79,1095.41 427.03,1093.25 432.28,1091.09 437.52,1088.9 442.76,1086.71 448.01,1084.5 453.25,1082.29 458.49,1080.06 463.73,1077.82 468.98,1075.57 474.22,1073.31 479.46,1071.04 484.71,1068.77 489.95,1066.48 489.95,1173.96 484.71,1174.4 479.46,1174.84 474.22,1175.29 468.98,1175.75 463.73,1176.22 458.49,1176.7 453.25,1177.19 448.01,1177.69 442.76,1178.21 437.52,1178.73 432.28,1179.27 427.03,1179.82 421.79,1180.38 416.55,1180.96 411.3,1181.56 406.06,1182.17 400.82,1182.8 395.58,1183.45 390.33,1184.12 385.09,1184.81 379.85,1185.52 374.6,1186.26 369.36,1187.02 364.12,1187.81 358.87,1188.62 353.63,1189.46 348.39,1190.33 343.14,1191.24 337.9,1192.17 332.66,1193.14 327.42,1194.14 322.17,1195.18 316.93,1196.26 311.69,1197.38 306.44,1198.53 301.2,1199.73 295.96,1200.96 290.71,1202.24 285.47,1203.56 280.23,1204.91 274.99,1206.32 269.74,1207.76 264.5,1209.24 259.26,1210.77 254.01,1212.33 248.77,1213.93 243.53,1215.57 238.28,1217.25 233.04,1218.97 227.8,1220.72 222.56,1222.5 217.31,1224.32 212.07,1226.16 206.83,1228.04 201.58,1229.94 196.34,1231.88 191.1,1233.83 185.85,1235.82 180.61,1237.82 175.37,1239.85 170.12,1241.9 164.88,1243.97 159.64,1246.06 154.4,1248.16 149.15,1250.29 143.91,1252.42 138.67,1254.58 133.42,1256.75 128.18,1258.93 122.94,1261.12 117.69,1263.33 112.45,1265.55 107.21,1267.78 101.97,1270.02 96.72,1272.27 91.48,1274.52 86.24,1276.79 80.99,1279.07 75.75,1281.35" fill="#2D5070" fill-opacity="0.4"/>
<line x1="75.75" y1="1227.61" x2="489.95" y2="1120.22" stroke="#2D5070" stroke-width="3.0"/>
<circle cx="75.75" cy="1288.4" r="5.7" fill="#FDB87C"/>
<circle cx="158.59" cy="1143.6" r="5.7" fill="#FDB87C"/>
<circle cx="241.43" cy="1036.3" r="5.7" fill="#FDB87C"/>
<circle cx="324.27" cy="946.5" r="5.7" fill="#FDB87C"/>
<circle cx="407.11" cy="991.7" r="5.7" fill="#FDB87C"/>
<circle cx="489.95" cy="923.3" r="5.7" fill="#FDB87C"/>
<circle cx="75.75" cy="1114.1" r="5.7" fill="#C9A0B8"/>
<circle cx="158.59" cy="1065.2" r="5.7" fill="#C9A0B8"/>
<circle cx="241.43" cy="1027" r="5.7" fill="#C9A0B8"/>
<circle cx="324.27" cy="1058.85" r="5.7" fill="#C9A0B8"/>
<circle cx="407.11" cy="1080.1" r="5.7" fill="#C9A0B8"/>
<circle cx="489.95" cy="1061.3" r="5.7" fill="#C9A0B8"/>
<circle cx="75.75" cy="1241.3" r="5.7" fill="#2D5070"/>
<circle cx="158.59" cy="1220.2" r="5.7" fill="#2D5070"/>
<circle cx="241.43" cy="1167.1" r="5.7" fill="#2D5070"/>
<circle cx="324.27" cy="1122.8" r="5.7" fill="#2D5070"/>
<circle cx="407.11" cy="1150.4" r="5.7" fill="#2D5070"/>
<circle cx="489.95" cy="1141.7" r="5.7" fill="#2D5070"/>
<text x="237.4" y="862.6" font-size="20.8" text-anchor="middle" fill="#FDB87C" stroke="#FDB87C" stroke-width="0.25">Slope = 3.19, R² = 0.84, p = 0.0103</text>
<text x="332.25" y="993.1" font-size="20.8" text-anchor="middle" fill="#C9A0B8" stroke="#C9A0B8" stroke-width="0.25">Slope = 0.25, R² = 0.12, p = 0.4922</text>
<text x="330.05" y="1248.3" font-size="20.8" text-anchor="middle" fill="#2D5070" stroke="#2D5070" stroke-width="0.25">Slope = 1.01, R² = 0.74, p = 0.0283</text>
<path d="M75.75 1378.2v1.7M158.59 1378.2v1.7M241.43 1378.2v1.7M324.27 1378.2v1.7M407.11 1378.2v1.7M489.95 1378.2v1.7" stroke="#333" stroke-width="1.1" fill="none"/>
<path d="M55.1 731.5H510.45V1378.2H55.1" fill="none" stroke="#000000" stroke-width="1.1"/>
<line x1="55.1" y1="731" x2="55.1" y2="1378.7" stroke="#303030" stroke-width="1.85"/>
<text x="52.2" y="751.88" font-size="21.3" text-anchor="end" fill="#4D4D4D" stroke="#4D4D4D" stroke-width="0.25">45</text>
<text x="52.2" y="857.88" font-size="21.3" text-anchor="end" fill="#4D4D4D" stroke="#4D4D4D" stroke-width="0.25">40</text>
<text x="52.2" y="963.88" font-size="21.3" text-anchor="end" fill="#4D4D4D" stroke="#4D4D4D" stroke-width="0.25">35</text>
<text x="52.2" y="1070.28" font-size="21.3" text-anchor="end" fill="#4D4D4D" stroke="#4D4D4D" stroke-width="0.25">30</text>
<text x="52.2" y="1176.28" font-size="21.3" text-anchor="end" fill="#4D4D4D" stroke="#4D4D4D" stroke-width="0.25">25</text>
<text x="52.2" y="1282.38" font-size="21.3" text-anchor="end" fill="#4D4D4D" stroke="#4D4D4D" stroke-width="0.25">20</text>
<text x="77.75" y="1397.05" font-size="20.9" text-anchor="middle" fill="#4D4D4D" stroke="#4D4D4D" stroke-width="0.25">2017</text>
<text x="160.59" y="1397.05" font-size="20.9" text-anchor="middle" fill="#4D4D4D" stroke="#4D4D4D" stroke-width="0.25">2018</text>
<text x="243.43" y="1397.05" font-size="20.9" text-anchor="middle" fill="#4D4D4D" stroke="#4D4D4D" stroke-width="0.25">2019</text>
<text x="326.27" y="1397.05" font-size="20.9" text-anchor="middle" fill="#4D4D4D" stroke="#4D4D4D" stroke-width="0.25">2020</text>
<text x="409.11" y="1397.05" font-size="20.9" text-anchor="middle" fill="#4D4D4D" stroke="#4D4D4D" stroke-width="0.25">2021</text>
<text x="491.95" y="1397.05" font-size="20.9" text-anchor="middle" fill="#4D4D4D" stroke="#4D4D4D" stroke-width="0.25">2022</text>
<text x="273.4" y="718.9" font-size="25.15" text-anchor="middle" fill="#111" stroke="#111" stroke-width="0.35">Region of the Americas</text>
</g>
<g>
<path d="M548.5 737.8H1003.4M548.5 824.8H1003.4M548.5 911.7H1003.4M548.5 998.6H1003.4M548.5 1085.4H1003.4M548.5 1172.3H1003.4M548.5 1259.4H1003.4M548.5 1346.4H1003.4M569 731.5V1378.2M610.41 731.5V1378.2M651.82 731.5V1378.2M693.23 731.5V1378.2M734.64 731.5V1378.2M776.05 731.5V1378.2M817.46 731.5V1378.2M858.87 731.5V1378.2M900.28 731.5V1378.2M941.69 731.5V1378.2M983.1 731.5V1378.2" stroke="#EDEDED" stroke-width="1.45" fill="none"/>
<polygon points="569,842.78 574.24,842.58 579.48,842.37 584.73,842.15 589.97,841.92 595.21,841.68 600.45,841.44 605.69,841.19 610.93,840.92 616.18,840.65 621.42,840.36 626.66,840.07 631.9,839.76 637.14,839.43 642.38,839.1 647.63,838.75 652.87,838.38 658.11,838 663.35,837.6 668.59,837.18 673.84,836.75 679.08,836.29 684.32,835.81 689.56,835.31 694.8,834.79 700.04,834.24 705.29,833.67 710.53,833.07 715.77,832.44 721.01,831.78 726.25,831.09 731.49,830.37 736.74,829.61 741.98,828.83 747.22,828 752.46,827.15 757.7,826.25 762.95,825.32 768.19,824.35 773.43,823.34 778.67,822.3 783.91,821.22 789.15,820.1 794.4,818.94 799.64,817.75 804.88,816.52 810.12,815.25 815.36,813.95 820.61,812.62 825.85,811.25 831.09,809.85 836.33,808.42 841.57,806.96 846.81,805.47 852.06,803.96 857.3,802.42 862.54,800.85 867.78,799.26 873.02,797.65 878.26,796.02 883.51,794.37 888.75,792.7 893.99,791.01 899.23,789.3 904.47,787.58 909.72,785.84 914.96,784.09 920.2,782.32 925.44,780.54 930.68,778.75 935.92,776.94 941.17,775.13 946.41,773.31 951.65,771.47 956.89,769.63 962.13,767.77 967.37,765.91 972.62,764.04 977.86,762.17 983.1,760.28 983.1,857.99 977.86,858.19 972.62,858.4 967.37,858.62 962.13,858.85 956.89,859.08 951.65,859.33 946.41,859.58 941.17,859.85 935.92,860.12 930.68,860.4 925.44,860.7 920.2,861.01 914.96,861.33 909.72,861.67 904.47,862.02 899.23,862.38 893.99,862.77 888.75,863.16 883.51,863.58 878.26,864.02 873.02,864.47 867.78,864.95 862.54,865.45 857.3,865.98 852.06,866.52 846.81,867.1 841.57,867.7 836.33,868.33 831.09,868.99 825.85,869.68 820.61,870.4 815.36,871.15 810.12,871.94 804.88,872.76 799.64,873.62 794.4,874.52 789.15,875.45 783.91,876.42 778.67,877.42 773.43,878.47 768.19,879.55 762.95,880.67 757.7,881.83 752.46,883.02 747.22,884.25 741.98,885.52 736.74,886.82 731.49,888.15 726.25,889.52 721.01,890.92 715.77,892.35 710.53,893.81 705.29,895.29 700.04,896.81 694.8,898.35 689.56,899.91 684.32,901.5 679.08,903.11 673.84,904.75 668.59,906.4 663.35,908.07 658.11,909.76 652.87,911.47 647.63,913.19 642.38,914.93 637.14,916.68 631.9,918.45 626.66,920.23 621.42,922.02 616.18,923.82 610.93,925.64 605.69,927.46 600.45,929.3 595.21,931.14 589.97,932.99 584.73,934.85 579.48,936.72 574.24,938.6 569,940.49" fill="#FDB87C" fill-opacity="0.4"/>
<line x1="569" y1="891.63" x2="983.1" y2="809.13" stroke="#FDB87C" stroke-width="3.0"/>
<polygon points="569,1200.18 574.24,1199.49 579.48,1198.79 584.73,1198.09 589.97,1197.39 595.21,1196.69 600.45,1195.98 605.69,1195.27 610.93,1194.56 616.18,1193.84 621.42,1193.12 626.66,1192.4 631.9,1191.67 637.14,1190.94 642.38,1190.2 647.63,1189.46 652.87,1188.72 658.11,1187.97 663.35,1187.21 668.59,1186.45 673.84,1185.69 679.08,1184.91 684.32,1184.13 689.56,1183.34 694.8,1182.55 700.04,1181.75 705.29,1180.94 710.53,1180.12 715.77,1179.29 721.01,1178.45 726.25,1177.61 731.49,1176.75 736.74,1175.88 741.98,1175.01 747.22,1174.12 752.46,1173.22 757.7,1172.31 762.95,1171.38 768.19,1170.45 773.43,1169.5 778.67,1168.54 783.91,1167.57 789.15,1166.59 794.4,1165.6 799.64,1164.59 804.88,1163.58 810.12,1162.55 815.36,1161.51 820.61,1160.46 825.85,1159.4 831.09,1158.33 836.33,1157.25 841.57,1156.16 846.81,1155.07 852.06,1153.96 857.3,1152.85 862.54,1151.72 867.78,1150.59 873.02,1149.46 878.26,1148.31 883.51,1147.17 888.75,1146.01 893.99,1144.85 899.23,1143.68 904.47,1142.51 909.72,1141.34 914.96,1140.15 920.2,1138.97 925.44,1137.78 930.68,1136.59 935.92,1135.39 941.17,1134.19 946.41,1132.99 951.65,1131.78 956.89,1130.57 962.13,1129.36 967.37,1128.14 972.62,1126.92 977.86,1125.71 983.1,1124.48 983.1,1155.18 977.86,1155.88 972.62,1156.57 967.37,1157.27 962.13,1157.98 956.89,1158.68 951.65,1159.39 946.41,1160.1 941.17,1160.81 935.92,1161.53 930.68,1162.24 925.44,1162.97 920.2,1163.7 914.96,1164.43 909.72,1165.16 904.47,1165.9 899.23,1166.65 893.99,1167.4 888.75,1168.15 883.51,1168.91 878.26,1169.68 873.02,1170.45 867.78,1171.23 862.54,1172.02 857.3,1172.82 852.06,1173.62 846.81,1174.43 841.57,1175.25 836.33,1176.08 831.09,1176.91 825.85,1177.76 820.61,1178.62 815.36,1179.48 810.12,1180.36 804.88,1181.25 799.64,1182.15 794.4,1183.06 789.15,1183.98 783.91,1184.92 778.67,1185.86 773.43,1186.82 768.19,1187.79 762.95,1188.77 757.7,1189.77 752.46,1190.77 747.22,1191.79 741.98,1192.82 736.74,1193.86 731.49,1194.91 726.25,1195.97 721.01,1197.04 715.77,1198.12 710.53,1199.2 705.29,1200.3 700.04,1201.41 694.8,1202.52 689.56,1203.64 684.32,1204.77 679.08,1205.91 673.84,1207.05 668.59,1208.2 663.35,1209.36 658.11,1210.52 652.87,1211.68 647.63,1212.86 642.38,1214.03 637.14,1215.21 631.9,1216.4 626.66,1217.59 621.42,1218.78 616.18,1219.98 610.93,1221.18 605.69,1222.38 600.45,1223.59 595.21,1224.8 589.97,1226.01 584.73,1227.22 579.48,1228.44 574.24,1229.66 569,1230.88" fill="#C9A0B8" fill-opacity="0.4"/>
<line x1="569" y1="1215.53" x2="983.1" y2="1139.83" stroke="#C9A0B8" stroke-width="3.0"/>
<polygon points="569,1295.32 574.24,1292.64 579.48,1289.95 584.73,1287.27 589.97,1284.57 595.21,1281.88 600.45,1279.17 605.69,1276.47 610.93,1273.76 616.18,1271.04 621.42,1268.31 626.66,1265.58 631.9,1262.85 637.14,1260.1 642.38,1257.35 647.63,1254.59 652.87,1251.82 658.11,1249.04 663.35,1246.26 668.59,1243.46 673.84,1240.65 679.08,1237.83 684.32,1235 689.56,1232.16 694.8,1229.31 700.04,1226.44 705.29,1223.55 710.53,1220.66 715.77,1217.74 721.01,1214.81 726.25,1211.87 731.49,1208.9 736.74,1205.92 741.98,1202.92 747.22,1199.9 752.46,1196.86 757.7,1193.8 762.95,1190.72 768.19,1187.62 773.43,1184.5 778.67,1181.36 783.91,1178.2 789.15,1175.01 794.4,1171.81 799.64,1168.59 804.88,1165.34 810.12,1162.08 815.36,1158.8 820.61,1155.5 825.85,1152.18 831.09,1148.84 836.33,1145.49 841.57,1142.12 846.81,1138.73 852.06,1135.33 857.3,1131.92 862.54,1128.49 867.78,1125.05 873.02,1121.59 878.26,1118.13 883.51,1114.65 888.75,1111.17 893.99,1107.67 899.23,1104.17 904.47,1100.65 909.72,1097.13 914.96,1093.6 920.2,1090.06 925.44,1086.51 930.68,1082.96 935.92,1079.4 941.17,1075.84 946.41,1072.26 951.65,1068.69 956.89,1065.11 962.13,1061.52 967.37,1057.93 972.62,1054.33 977.86,1050.74 983.1,1047.13 983.1,1100.85 977.86,1103.53 972.62,1106.21 967.37,1108.9 962.13,1111.59 956.89,1114.29 951.65,1116.99 946.41,1119.7 941.17,1122.41 935.92,1125.13 930.68,1127.85 925.44,1130.58 920.2,1133.32 914.96,1136.07 909.72,1138.82 904.47,1141.58 899.23,1144.35 893.99,1147.12 888.75,1149.91 883.51,1152.71 878.26,1155.51 873.02,1158.33 867.78,1161.16 862.54,1164.01 857.3,1166.86 852.06,1169.73 846.81,1172.61 841.57,1175.51 836.33,1178.42 831.09,1181.35 825.85,1184.3 820.61,1187.26 815.36,1190.25 810.12,1193.25 804.88,1196.27 799.64,1199.31 794.4,1202.37 789.15,1205.44 783.91,1208.54 778.67,1211.67 773.43,1214.81 768.19,1217.97 762.95,1221.15 757.7,1224.36 752.46,1227.58 747.22,1230.82 741.98,1234.09 736.74,1237.37 731.49,1240.67 726.25,1243.99 721.01,1247.33 715.77,1250.68 710.53,1254.05 705.29,1257.44 700.04,1260.84 694.8,1264.25 689.56,1267.68 684.32,1271.12 679.08,1274.57 673.84,1278.04 668.59,1281.51 663.35,1285 658.11,1288.5 652.87,1292 647.63,1295.52 642.38,1299.04 637.14,1302.57 631.9,1306.11 626.66,1309.65 621.42,1313.21 616.18,1316.77 610.93,1320.33 605.69,1323.9 600.45,1327.48 595.21,1331.06 589.97,1334.65 584.73,1338.24 579.48,1341.83 574.24,1345.43 569,1349.03" fill="#2D5070" fill-opacity="0.4"/>
<line x1="569" y1="1322.18" x2="983.1" y2="1073.99" stroke="#2D5070" stroke-width="3.0"/>
<circle cx="569" cy="923.8" r="5.7" fill="#FDB87C"/>
<circle cx="651.82" cy="853.2" r="5.7" fill="#FDB87C"/>
<circle cx="734.64" cy="843.7" r="5.7" fill="#FDB87C"/>
<circle cx="817.46" cy="823.7" r="5.7" fill="#FDB87C"/>
<circle cx="900.28" cy="834.2" r="5.7" fill="#FDB87C"/>
<circle cx="983.1" cy="823.7" r="5.7" fill="#FDB87C"/>
<circle cx="569" cy="1225" r="5.7" fill="#C9A0B8"/>
<circle cx="651.82" cy="1190.9" r="5.7" fill="#C9A0B8"/>
<circle cx="734.64" cy="1179.6" r="5.7" fill="#C9A0B8"/>
<circle cx="817.46" cy="1174.2" r="5.7" fill="#C9A0B8"/>
<circle cx="900.28" cy="1154.4" r="5.7" fill="#C9A0B8"/>
<circle cx="983.1" cy="1142" r="5.7" fill="#C9A0B8"/>
<circle cx="569" cy="1331.7" r="5.7" fill="#2D5070"/>
<circle cx="651.82" cy="1271.6" r="5.7" fill="#2D5070"/>
<circle cx="734.64" cy="1222.3" r="5.7" fill="#2D5070"/>
<circle cx="817.46" cy="1151.7" r="5.7" fill="#2D5070"/>
<circle cx="900.28" cy="1124.7" r="5.7" fill="#2D5070"/>
<circle cx="983.1" cy="1086.5" r="5.7" fill="#2D5070"/>
<text x="832" y="911.6" font-size="20.8" text-anchor="middle" fill="#FDB87C" stroke="#FDB87C" stroke-width="0.25">Slope = 1.9, R² = 0.67, p = 0.0466</text>
<text x="729.85" y="1099.6" font-size="20.8" text-anchor="middle" fill="#C9A0B8" stroke="#C9A0B8" stroke-width="0.25">Slope = 1.74, R² = 0.95, p = 0.0011</text>
<text x="803.85" y="1314.3" font-size="20.8" text-anchor="middle" fill="#2D5070" stroke="#2D5070" stroke-width="0.25">Slope = 5.71, R² = 0.98, p = 1e−04</text>
<path d="M548.5 824.8h-1.7M548.5 998.6h-1.7M548.5 1172.3h-1.7M548.5 1346.4h-1.7M569 1378.2v1.7M651.82 1378.2v1.7M734.64 1378.2v1.7M817.46 1378.2v1.7M900.28 1378.2v1.7M983.1 1378.2v1.7" stroke="#333" stroke-width="1.1" fill="none"/>
<rect x="548.5" y="731.5" width="454.9" height="646.7" fill="none" stroke="#000000" stroke-width="1.1"/>
<text x="543.15" y="831.32" font-size="18.9" text-anchor="end" fill="#4D4D4D" stroke="#4D4D4D" stroke-width="0.25">80</text>
<text x="543.15" y="1005.12" font-size="18.9" text-anchor="end" fill="#4D4D4D" stroke="#4D4D4D" stroke-width="0.25">60</text>
<text x="543.15" y="1178.82" font-size="18.9" text-anchor="end" fill="#4D4D4D" stroke="#4D4D4D" stroke-width="0.25">40</text>
<text x="543.15" y="1352.92" font-size="18.9" text-anchor="end" fill="#4D4D4D" stroke="#4D4D4D" stroke-width="0.25">20</text>
<text x="571" y="1397.05" font-size="20.9" text-anchor="middle" fill="#4D4D4D" stroke="#4D4D4D" stroke-width="0.25">2017</text>
<text x="653.82" y="1397.05" font-size="20.9" text-anchor="middle" fill="#4D4D4D" stroke="#4D4D4D" stroke-width="0.25">2018</text>
<text x="736.64" y="1397.05" font-size="20.9" text-anchor="middle" fill="#4D4D4D" stroke="#4D4D4D" stroke-width="0.25">2019</text>
<text x="819.46" y="1397.05" font-size="20.9" text-anchor="middle" fill="#4D4D4D" stroke="#4D4D4D" stroke-width="0.25">2020</text>
<text x="902.28" y="1397.05" font-size="20.9" text-anchor="middle" fill="#4D4D4D" stroke="#4D4D4D" stroke-width="0.25">2021</text>
<text x="985.1" y="1397.05" font-size="20.9" text-anchor="middle" fill="#4D4D4D" stroke="#4D4D4D" stroke-width="0.25">2022</text>
<text x="762.2" y="718.9" font-size="25.15" text-anchor="middle" fill="#111" stroke="#111" stroke-width="0.35">South−East Asia region</text>
</g>
<g>
<path d="M1041.55 733H1497.2M1041.55 790.4H1497.2M1041.55 847.8H1497.2M1041.55 905.2H1497.2M1041.55 962.6H1497.2M1041.55 1020H1497.2M1041.55 1077.4H1497.2M1041.55 1134.9H1497.2M1041.55 1192.4H1497.2M1041.55 1249.8H1497.2M1041.55 1307.2H1497.2M1041.55 1364.7H1497.2M1062.15 731.5V1378.2M1103.59 731.5V1378.2M1145.02 731.5V1378.2M1186.46 731.5V1378.2M1227.89 731.5V1378.2M1269.33 731.5V1378.2M1310.76 731.5V1378.2M1352.19 731.5V1378.2M1393.63 731.5V1378.2M1435.07 731.5V1378.2M1476.5 731.5V1378.2" stroke="#EDEDED" stroke-width="1.45" fill="none"/>
<polygon points="1062.15,1030.78 1067.39,1028.89 1072.64,1027 1077.88,1025.08 1083.13,1023.16 1088.37,1021.22 1093.62,1019.26 1098.86,1017.29 1104.11,1015.29 1109.35,1013.28 1114.6,1011.25 1119.84,1009.2 1125.09,1007.12 1130.33,1005.02 1135.58,1002.9 1140.82,1000.75 1146.07,998.57 1151.31,996.36 1156.56,994.11 1161.8,991.84 1167.05,989.53 1172.29,987.18 1177.54,984.8 1182.78,982.37 1188.03,979.9 1193.27,977.39 1198.52,974.83 1203.76,972.21 1209.01,969.55 1214.25,966.83 1219.5,964.06 1224.74,961.22 1229.99,958.33 1235.23,955.38 1240.48,952.36 1245.72,949.27 1250.97,946.12 1256.21,942.9 1261.46,939.62 1266.7,936.26 1271.95,932.83 1277.19,929.34 1282.44,925.77 1287.68,922.14 1292.93,918.44 1298.17,914.67 1303.42,910.84 1308.66,906.94 1313.91,902.98 1319.15,898.97 1324.4,894.89 1329.64,890.75 1334.89,886.57 1340.13,882.33 1345.38,878.04 1350.62,873.7 1355.87,869.32 1361.11,864.89 1366.36,860.43 1371.6,855.92 1376.85,851.38 1382.09,846.8 1387.34,842.19 1392.58,837.55 1397.83,832.88 1403.07,828.18 1408.32,823.45 1413.56,818.7 1418.81,813.92 1424.05,809.12 1429.3,804.3 1434.54,799.46 1439.79,794.61 1445.03,789.73 1450.28,784.83 1455.52,779.92 1460.77,775 1466.01,770.06 1471.26,765.1 1476.5,760.13 1476.5,939.52 1471.26,941.41 1466.01,943.3 1460.77,945.22 1455.52,947.14 1450.28,949.08 1445.03,951.04 1439.79,953.01 1434.54,955.01 1429.3,957.02 1424.05,959.05 1418.81,961.1 1413.56,963.18 1408.32,965.28 1403.07,967.4 1397.83,969.55 1392.58,971.73 1387.34,973.94 1382.09,976.19 1376.85,978.46 1371.6,980.77 1366.36,983.12 1361.11,985.5 1355.87,987.93 1350.62,990.4 1345.38,992.91 1340.13,995.47 1334.89,998.09 1329.64,1000.75 1324.4,1003.47 1319.15,1006.24 1313.91,1009.08 1308.66,1011.97 1303.42,1014.92 1298.17,1017.94 1292.93,1021.03 1287.68,1024.18 1282.44,1027.4 1277.19,1030.68 1271.95,1034.04 1266.7,1037.47 1261.46,1040.96 1256.21,1044.53 1250.97,1048.16 1245.72,1051.86 1240.48,1055.63 1235.23,1059.46 1229.99,1063.36 1224.74,1067.32 1219.5,1071.33 1214.25,1075.41 1209.01,1079.55 1203.76,1083.73 1198.52,1087.97 1193.27,1092.26 1188.03,1096.6 1182.78,1100.98 1177.54,1105.41 1172.29,1109.87 1167.05,1114.38 1161.8,1118.92 1156.56,1123.5 1151.31,1128.11 1146.07,1132.75 1140.82,1137.42 1135.58,1142.12 1130.33,1146.85 1125.09,1151.6 1119.84,1156.38 1114.6,1161.18 1109.35,1166 1104.11,1170.84 1098.86,1175.69 1093.62,1180.57 1088.37,1185.47 1083.13,1190.38 1077.88,1195.3 1072.64,1200.24 1067.39,1205.2 1062.15,1210.17" fill="#FDB87C" fill-opacity="0.4"/>
<line x1="1062.15" y1="1120.47" x2="1476.5" y2="849.83" stroke="#FDB87C" stroke-width="3.0"/>
<polygon points="1062.15,1256.18 1067.39,1256.07 1072.64,1255.95 1077.88,1255.84 1083.13,1255.71 1088.37,1255.58 1093.62,1255.45 1098.86,1255.31 1104.11,1255.17 1109.35,1255.02 1114.6,1254.86 1119.84,1254.7 1125.09,1254.53 1130.33,1254.35 1135.58,1254.17 1140.82,1253.97 1146.07,1253.77 1151.31,1253.56 1156.56,1253.34 1161.8,1253.11 1167.05,1252.87 1172.29,1252.62 1177.54,1252.35 1182.78,1252.08 1188.03,1251.79 1193.27,1251.48 1198.52,1251.16 1203.76,1250.83 1209.01,1250.48 1214.25,1250.11 1219.5,1249.73 1224.74,1249.33 1229.99,1248.91 1235.23,1248.47 1240.48,1248.01 1245.72,1247.53 1250.97,1247.03 1256.21,1246.51 1261.46,1245.97 1266.7,1245.4 1271.95,1244.82 1277.19,1244.22 1282.44,1243.59 1287.68,1242.94 1292.93,1242.27 1298.17,1241.59 1303.42,1240.88 1308.66,1240.15 1313.91,1239.4 1319.15,1238.64 1324.4,1237.85 1329.64,1237.05 1334.89,1236.23 1340.13,1235.4 1345.38,1234.55 1350.62,1233.69 1355.87,1232.81 1361.11,1231.92 1366.36,1231.02 1371.6,1230.11 1376.85,1229.18 1382.09,1228.24 1387.34,1227.29 1392.58,1226.34 1397.83,1225.37 1403.07,1224.4 1408.32,1223.41 1413.56,1222.42 1418.81,1221.43 1424.05,1220.42 1429.3,1219.41 1434.54,1218.39 1439.79,1217.37 1445.03,1216.34 1450.28,1215.31 1455.52,1214.27 1460.77,1213.22 1466.01,1212.18 1471.26,1211.12 1476.5,1210.07 1476.5,1265.09 1471.26,1265.2 1466.01,1265.31 1460.77,1265.43 1455.52,1265.55 1450.28,1265.68 1445.03,1265.82 1439.79,1265.95 1434.54,1266.1 1429.3,1266.25 1424.05,1266.4 1418.81,1266.57 1413.56,1266.74 1408.32,1266.91 1403.07,1267.1 1397.83,1267.29 1392.58,1267.49 1387.34,1267.7 1382.09,1267.92 1376.85,1268.16 1371.6,1268.4 1366.36,1268.65 1361.11,1268.91 1355.87,1269.19 1350.62,1269.48 1345.38,1269.79 1340.13,1270.1 1334.89,1270.44 1329.64,1270.79 1324.4,1271.16 1319.15,1271.54 1313.91,1271.94 1308.66,1272.36 1303.42,1272.8 1298.17,1273.26 1292.93,1273.74 1287.68,1274.24 1282.44,1274.76 1277.19,1275.3 1271.95,1275.86 1266.7,1276.45 1261.46,1277.05 1256.21,1277.68 1250.97,1278.32 1245.72,1278.99 1240.48,1279.68 1235.23,1280.39 1229.99,1281.12 1224.74,1281.86 1219.5,1282.63 1214.25,1283.41 1209.01,1284.21 1203.76,1285.03 1198.52,1285.87 1193.27,1286.71 1188.03,1287.58 1182.78,1288.45 1177.54,1289.34 1172.29,1290.25 1167.05,1291.16 1161.8,1292.09 1156.56,1293.02 1151.31,1293.97 1146.07,1294.93 1140.82,1295.89 1135.58,1296.87 1130.33,1297.85 1125.09,1298.84 1119.84,1299.84 1114.6,1300.84 1109.35,1301.86 1104.11,1302.87 1098.86,1303.9 1093.62,1304.93 1088.37,1305.96 1083.13,1307 1077.88,1308.04 1072.64,1309.09 1067.39,1310.14 1062.15,1311.2" fill="#C9A0B8" fill-opacity="0.4"/>
<line x1="1062.15" y1="1283.69" x2="1476.5" y2="1237.58" stroke="#C9A0B8" stroke-width="3.0"/>
<polygon points="1062.15,1282.63 1067.39,1281.72 1072.64,1280.8 1077.88,1279.87 1083.13,1278.94 1088.37,1278.01 1093.62,1277.07 1098.86,1276.12 1104.11,1275.17 1109.35,1274.21 1114.6,1273.24 1119.84,1272.26 1125.09,1271.28 1130.33,1270.28 1135.58,1269.28 1140.82,1268.27 1146.07,1267.24 1151.31,1266.21 1156.56,1265.16 1161.8,1264.1 1167.05,1263.03 1172.29,1261.95 1177.54,1260.85 1182.78,1259.73 1188.03,1258.6 1193.27,1257.45 1198.52,1256.29 1203.76,1255.11 1209.01,1253.9 1214.25,1252.68 1219.5,1251.44 1224.74,1250.17 1229.99,1248.88 1235.23,1247.57 1240.48,1246.24 1245.72,1244.88 1250.97,1243.49 1256.21,1242.09 1261.46,1240.65 1266.7,1239.19 1271.95,1237.71 1277.19,1236.19 1282.44,1234.66 1287.68,1233.1 1292.93,1231.51 1298.17,1229.9 1303.42,1228.26 1308.66,1226.6 1313.91,1224.92 1319.15,1223.21 1324.4,1221.48 1329.64,1219.74 1334.89,1217.97 1340.13,1216.18 1345.38,1214.37 1350.62,1212.55 1355.87,1210.71 1361.11,1208.85 1366.36,1206.98 1371.6,1205.1 1376.85,1203.2 1382.09,1201.29 1387.34,1199.36 1392.58,1197.42 1397.83,1195.48 1403.07,1193.52 1408.32,1191.55 1413.56,1189.57 1418.81,1187.59 1424.05,1185.59 1429.3,1183.59 1434.54,1181.58 1439.79,1179.56 1445.03,1177.54 1450.28,1175.51 1455.52,1173.47 1460.77,1171.43 1466.01,1169.38 1471.26,1167.33 1476.5,1165.27 1476.5,1231.8 1471.26,1232.72 1466.01,1233.64 1460.77,1234.56 1455.52,1235.49 1450.28,1236.42 1445.03,1237.36 1439.79,1238.31 1434.54,1239.27 1429.3,1240.23 1424.05,1241.2 1418.81,1242.17 1413.56,1243.16 1408.32,1244.15 1403.07,1245.15 1397.83,1246.17 1392.58,1247.19 1387.34,1248.22 1382.09,1249.27 1376.85,1250.33 1371.6,1251.4 1366.36,1252.49 1361.11,1253.59 1355.87,1254.7 1350.62,1255.83 1345.38,1256.98 1340.13,1258.14 1334.89,1259.33 1329.64,1260.53 1324.4,1261.75 1319.15,1263 1313.91,1264.26 1308.66,1265.55 1303.42,1266.86 1298.17,1268.2 1292.93,1269.56 1287.68,1270.94 1282.44,1272.35 1277.19,1273.78 1271.95,1275.24 1266.7,1276.73 1261.46,1278.24 1256.21,1279.78 1250.97,1281.34 1245.72,1282.93 1240.48,1284.54 1235.23,1286.17 1229.99,1287.83 1224.74,1289.52 1219.5,1291.22 1214.25,1292.95 1209.01,1294.7 1203.76,1296.47 1198.52,1298.25 1193.27,1300.06 1188.03,1301.88 1182.78,1303.72 1177.54,1305.58 1172.29,1307.45 1167.05,1309.34 1161.8,1311.24 1156.56,1313.15 1151.31,1315.07 1146.07,1317.01 1140.82,1318.96 1135.58,1320.92 1130.33,1322.88 1125.09,1324.86 1119.84,1326.85 1114.6,1328.84 1109.35,1330.84 1104.11,1332.85 1098.86,1334.87 1093.62,1336.9 1088.37,1338.93 1083.13,1340.96 1077.88,1343 1072.64,1345.05 1067.39,1347.1 1062.15,1349.16" fill="#2D5070" fill-opacity="0.4"/>
<line x1="1062.15" y1="1315.9" x2="1476.5" y2="1198.54" stroke="#2D5070" stroke-width="3.0"/>
<circle cx="1062.15" cy="1119" r="5.7" fill="#FDB87C"/>
<circle cx="1145.02" cy="1121.1" r="5.7" fill="#FDB87C"/>
<circle cx="1227.89" cy="944.1" r="5.7" fill="#FDB87C"/>
<circle cx="1310.76" cy="953.3" r="5.7" fill="#FDB87C"/>
<circle cx="1393.63" cy="906.2" r="5.7" fill="#FDB87C"/>
<circle cx="1476.5" cy="867.2" r="5.7" fill="#FDB87C"/>
<circle cx="1062.15" cy="1285.7" r="5.7" fill="#C9A0B8"/>
<circle cx="1145.02" cy="1277.8" r="5.7" fill="#C9A0B8"/>
<circle cx="1227.89" cy="1245.3" r="5.7" fill="#C9A0B8"/>
<circle cx="1310.76" cy="1269.7" r="5.7" fill="#C9A0B8"/>
<circle cx="1393.63" cy="1255.9" r="5.7" fill="#C9A0B8"/>
<circle cx="1476.5" cy="1229.4" r="5.7" fill="#C9A0B8"/>
<circle cx="1062.15" cy="1312.2" r="5.7" fill="#2D5070"/>
<circle cx="1145.02" cy="1301.9" r="5.7" fill="#2D5070"/>
<circle cx="1227.89" cy="1248.9" r="5.7" fill="#2D5070"/>
<circle cx="1310.76" cy="1258.1" r="5.7" fill="#2D5070"/>
<circle cx="1393.63" cy="1237.5" r="5.7" fill="#2D5070"/>
<circle cx="1476.5" cy="1184.7" r="5.7" fill="#2D5070"/>
<text x="1257.45" y="822.6" font-size="20.8" text-anchor="middle" fill="#FDB87C" stroke="#FDB87C" stroke-width="0.25">Slope = 4.71, R² = 0.87, p = 0.0071</text>
<text x="1328.35" y="1157.1" font-size="20.8" text-anchor="middle" fill="#2D5070" stroke="#2D5070" stroke-width="0.25">Slope = 2.04, R² = 0.9, p = 0.004</text>
<text x="1328.5" y="1323" font-size="20.8" text-anchor="middle" fill="#C9A0B8" stroke="#C9A0B8" stroke-width="0.25">Slope = 0.8, R² = 0.67, p = 0.0468</text>
<path d="M1041.55 733h-1.7M1041.55 847.8h-1.7M1041.55 962.6h-1.7M1041.55 1077.4h-1.7M1041.55 1192.4h-1.7M1041.55 1307.2h-1.7M1062.15 1378.2v1.7M1145.02 1378.2v1.7M1227.89 1378.2v1.7M1310.76 1378.2v1.7M1393.63 1378.2v1.7M1476.5 1378.2v1.7" stroke="#333" stroke-width="1.1" fill="none"/>
<rect x="1041.55" y="731.5" width="455.65" height="646.7" fill="none" stroke="#000000" stroke-width="1.1"/>
<text x="1036.2" y="739.52" font-size="18.9" text-anchor="end" fill="#4D4D4D" stroke="#4D4D4D" stroke-width="0.25">80</text>
<text x="1036.2" y="854.32" font-size="18.9" text-anchor="end" fill="#4D4D4D" stroke="#4D4D4D" stroke-width="0.25">70</text>
<text x="1036.2" y="969.12" font-size="18.9" text-anchor="end" fill="#4D4D4D" stroke="#4D4D4D" stroke-width="0.25">60</text>
<text x="1036.2" y="1083.92" font-size="18.9" text-anchor="end" fill="#4D4D4D" stroke="#4D4D4D" stroke-width="0.25">50</text>
<text x="1036.2" y="1198.92" font-size="18.9" text-anchor="end" fill="#4D4D4D" stroke="#4D4D4D" stroke-width="0.25">40</text>
<text x="1036.2" y="1313.72" font-size="18.9" text-anchor="end" fill="#4D4D4D" stroke="#4D4D4D" stroke-width="0.25">30</text>
<text x="1064.15" y="1397.05" font-size="20.9" text-anchor="middle" fill="#4D4D4D" stroke="#4D4D4D" stroke-width="0.25">2017</text>
<text x="1147.02" y="1397.05" font-size="20.9" text-anchor="middle" fill="#4D4D4D" stroke="#4D4D4D" stroke-width="0.25">2018</text>
<text x="1229.89" y="1397.05" font-size="20.9" text-anchor="middle" fill="#4D4D4D" stroke="#4D4D4D" stroke-width="0.25">2019</text>
<text x="1312.76" y="1397.05" font-size="20.9" text-anchor="middle" fill="#4D4D4D" stroke="#4D4D4D" stroke-width="0.25">2020</text>
<text x="1395.63" y="1397.05" font-size="20.9" text-anchor="middle" fill="#4D4D4D" stroke="#4D4D4D" stroke-width="0.25">2021</text>
<text x="1478.5" y="1397.05" font-size="20.9" text-anchor="middle" fill="#4D4D4D" stroke="#4D4D4D" stroke-width="0.25">2022</text>
<text x="1255.2" y="718.9" font-size="25.15" text-anchor="middle" fill="#111" stroke="#111" stroke-width="0.35">Western Pacific region</text>
</g>
<text transform="translate(18.4 643.3) rotate(-90)" font-size="25" text-anchor="middle" fill="#000" stroke="#000" stroke-width="0.35">Mean value of AMR governance domains</text>
<text x="778.7" y="1424" font-size="25" text-anchor="middle" fill="#000" stroke="#000" stroke-width="0.35">Year</text>
<rect x="1531.3" y="650.2" width="36.1" height="36.05" fill="#FDB87C" fill-opacity="0.4"/>
<line x1="1535" y1="668.3" x2="1564" y2="668.3" stroke="#FDB87C" stroke-width="1.05"/>
<circle cx="1549.5" cy="668.3" r="9.6" fill="#FDB87C"/>
<text x="1578.8" y="674.9" font-size="20.8" fill="#000" stroke="#000" stroke-width="0.3">1 Policy design</text>
<rect x="1531.3" y="686.2" width="36.1" height="36.05" fill="#C9A0B8" fill-opacity="0.4"/>
<line x1="1535" y1="704.3" x2="1564" y2="704.3" stroke="#C9A0B8" stroke-width="1.05"/>
<circle cx="1549.5" cy="704.3" r="9.6" fill="#C9A0B8"/>
<text x="1578.8" y="710.9" font-size="20.8" fill="#000" stroke="#000" stroke-width="0.3">2 Implementation</text>
<rect x="1531.3" y="722.2" width="36.1" height="36.05" fill="#2D5070" fill-opacity="0.4"/>
<line x1="1535" y1="740.3" x2="1564" y2="740.3" stroke="#2D5070" stroke-width="1.05"/>
<circle cx="1549.5" cy="740.3" r="9.6" fill="#2D5070"/>
<text x="1578.8" y="746.9" font-size="20.8" fill="#000" stroke="#000" stroke-width="0.3">3 Monitoring</text>
</svg></body></html>
